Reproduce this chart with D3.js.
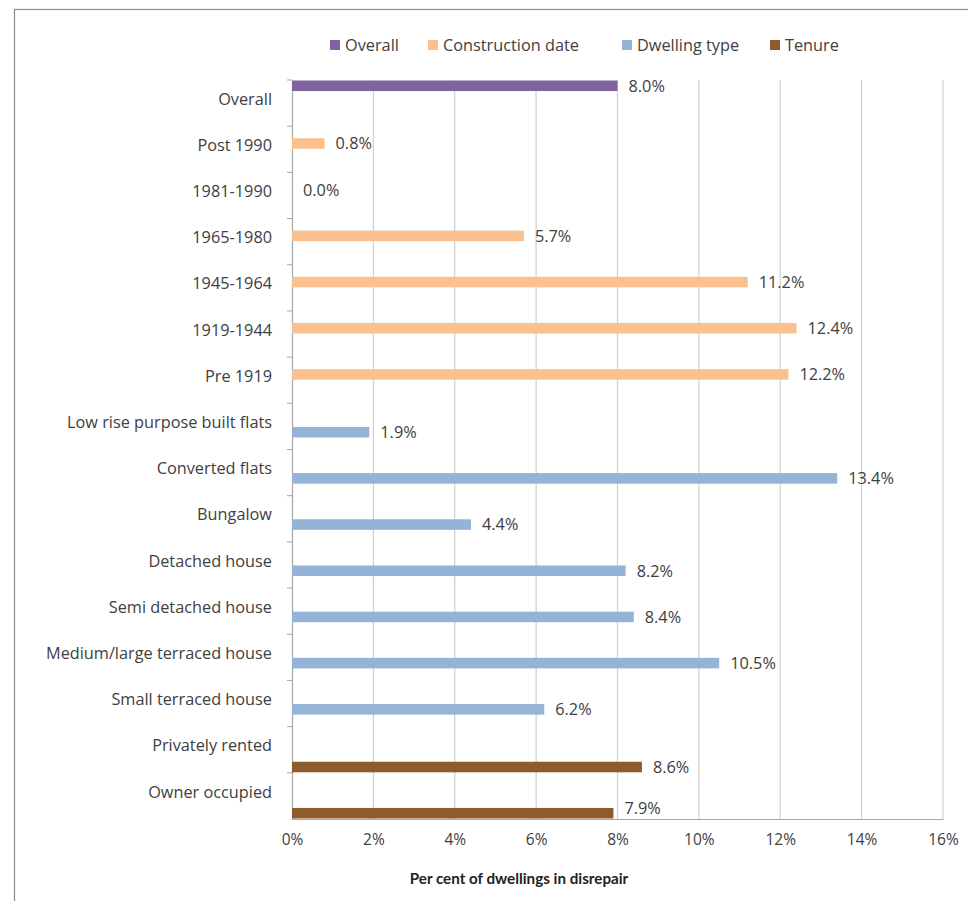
<!DOCTYPE html>
<html>
<head>
<meta charset="utf-8">
<script src="https://cdn.jsdelivr.net/npm/d3@7"></script>
<style>
  html, body { margin: 0; padding: 0; background: #fff; }
  svg text { font-family: "Open Sans", Lato, sans-serif; }
</style>
</head>
<body>
<svg id="chart" width="968" height="901"></svg>
<script>
const categories = ["Overall", "Post 1990", "1981-1990", "1965-1980", "1945-1964", "1919-1944", "Pre 1919",
  "Low rise purpose built flats", "Converted flats", "Bungalow", "Detached house", "Semi detached house",
  "Medium/large terraced house", "Small terraced house", "Privately rented", "Owner occupied"];
const seriesNames = ["Overall", "Construction date", "Dwelling type", "Tenure"];
const categorySeries = ["Overall", "Construction date", "Construction date", "Construction date", "Construction date",
  "Construction date", "Construction date", "Dwelling type", "Dwelling type", "Dwelling type", "Dwelling type",
  "Dwelling type", "Dwelling type", "Dwelling type", "Tenure", "Tenure"];
const values = [8.0, 0.8, 0.0, 5.7, 11.2, 12.4, 12.2, 1.9, 13.4, 4.4, 8.2, 8.4, 10.5, 6.2, 8.6, 7.9];
const xTicks = [0, 2, 4, 6, 8, 10, 12, 14, 16];
const colors = ["#8064A2", "#FAC090", "#95B3D7", "#8E5B2C"];
const axisTitle = "Per cent of dwellings in disrepair";

const svg = d3.select("#chart");
const plotLeft = 292, plotRight = 943, plotTop = 80, plotBottom = 819;
const FONT = "'Open Sans', Lato, sans-serif";

// outer frame
svg.append("rect").attr("x", 14.5).attr("y", 9.5).attr("width", 980).attr("height", 920)
  .attr("fill", "none").attr("stroke", "#8c8c8c").attr("stroke-width", 1.2);

const x = d3.scaleLinear().domain([0, 16]).range([plotLeft, plotRight]);
const y = d3.scaleBand().domain(categories).range([plotTop, plotBottom]).padding(0);
const ys = d3.scaleBand().domain(seriesNames).range([0, y.bandwidth()]).padding(0);
const color = d3.scaleOrdinal().domain(seriesNames).range(colors);

// gridlines
svg.append("g").selectAll("line").data(xTicks.slice(1)).join("line")
  .attr("x1", d => x(d)).attr("x2", d => x(d)).attr("y1", plotTop).attr("y2", plotBottom)
  .attr("stroke", "#cfcfcf").attr("stroke-width", 1.2);

// x axis
const xAxis = svg.append("g").attr("transform", `translate(0,${plotBottom})`)
  .call(d3.axisBottom(x).tickValues(xTicks).tickFormat(d => d + "%").tickSize(0).tickPadding(15));
xAxis.select(".domain").attr("stroke", "#a6a6a6").attr("stroke-width", 1.2);
xAxis.selectAll("text").attr("font-size", 15.5).attr("fill", "#404040").style("font-family", FONT);

// y axis
const yAxis = svg.append("g").attr("transform", `translate(${plotLeft},0)`)
  .call(d3.axisLeft(y).tickSize(0).tickPadding(20));
yAxis.select(".domain").attr("stroke", "#a6a6a6").attr("stroke-width", 1.2);
yAxis.selectAll("text").attr("font-size", 16.3).attr("fill", "#404040").attr("dy", "0.1em")
  .style("font-family", FONT);
// category boundary tick marks
svg.append("g").selectAll("line").data(categories).join("line")
  .attr("x1", plotLeft - 5).attr("x2", plotLeft)
  .attr("y1", d => y(d)).attr("y2", d => y(d))
  .attr("stroke", "#a6a6a6");

// bars
const rows = categories.map((c, i) => ({ cat: c, series: categorySeries[i], value: values[i] }));
svg.append("g").selectAll("rect").data(rows).join("rect")
  .attr("x", x(0))
  .attr("y", d => y(d.cat) + ys(d.series) + 0.5)
  .attr("width", d => x(d.value) - x(0))
  .attr("height", ys.bandwidth() - 1)
  .attr("fill", d => color(d.series));

// data labels (kept inside the plot area)
svg.append("g").selectAll("text").data(rows).join("text")
  .attr("x", d => x(d.value) + 11)
  .attr("y", d => Math.min(y(d.cat) + ys(d.series) + ys.bandwidth() / 2, plotBottom - 11))
  .attr("dy", "0.36em")
  .attr("font-size", 16.3).attr("fill", "#404040")
  .text(d => d.value.toFixed(1) + "%");

// legend
const legendX = [330, 428, 622, 770];
const lg = svg.append("g");
seriesNames.forEach((s, i) => {
  lg.append("rect").attr("x", legendX[i]).attr("y", 40).attr("width", 10).attr("height", 10).attr("fill", color(s));
  lg.append("text").attr("x", legendX[i] + 15).attr("y", 45).attr("dy", "0.36em")
    .attr("font-size", 16.3).attr("fill", "#404040").text(s);
});

// axis title
svg.append("text").attr("x", 519).attr("y", 884).attr("text-anchor", "middle")
  .style("font-family", "Lato, sans-serif")
  .attr("font-size", 15.2).attr("font-weight", "bold").attr("fill", "#222").text(axisTitle);
</script>
</body>
</html>
